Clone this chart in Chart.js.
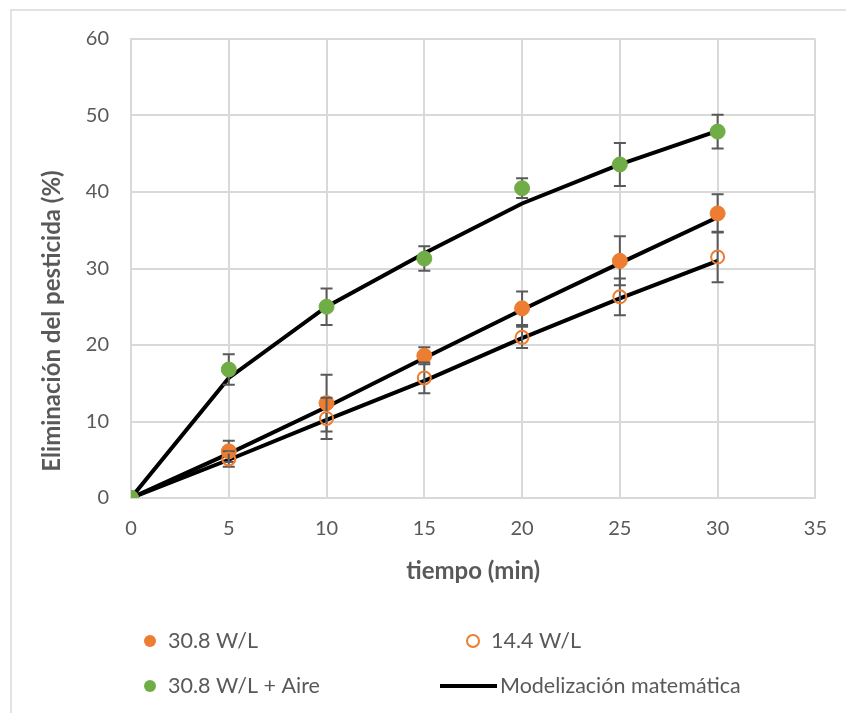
<!DOCTYPE html>
<html>
<head>
<meta charset="utf-8">
<script src="https://cdn.jsdelivr.net/npm/chart.js@4.4.0/dist/chart.umd.min.js"></script>
<style>
  html, body { margin: 0; padding: 0; background: #fff; }
  #wrap { width: 846px; height: 713px; }
</style>
</head>
<body>
<div id="wrap"><canvas id="chart" width="846" height="713"></canvas></div>
<script>
// tiempo (min)
const tiempo = [0, 5, 10, 15, 20, 25, 30];

// datos experimentales y desviaciones
const w308 = [0, 6.1, 12.4, 18.6, 24.8, 31.0, 37.2];
const w308Err = [0, 1.4, 3.7, 1.1, 2.2, 3.2, 2.5];
const w144 = [0, 5.1, 10.4, 15.7, 21.0, 26.3, 31.5];
const w144Err = [0, 1.0, 2.7, 2.0, 1.4, 2.4, 3.3];
const w308Aire = [0, 16.8, 25.0, 31.3, 40.5, 43.6, 47.9];
const w308AireErr = [0, 2.0, 2.4, 1.6, 1.3, 2.8, 2.2];

// modelización matemática
const modelo308 = [0, 5.8, 11.9, 18.3, 24.6, 30.7, 36.7];
const modelo144 = [0, 5.0, 10.2, 15.3, 20.9, 26.1, 31.0];
const modeloAire = [0, 15.7, 25.0, 32.0, 38.5, 43.6, 48.0];

const xTitle = 'tiempo (min)';
const yTitle = 'Eliminación del pesticida (%)';

const FONT = 'Lato, "Open Sans", sans-serif';
const NARANJA = '#ED7D31';
const VERDE = '#70AD47';

function pares(valores) {
    return tiempo.map((t, i) => ({ x: t, y: valores[i] }));
}

function puntos(label, valores, errores, fill, border, order) {
    return {
        label: label,
        data: pares(valores),
        errores: errores,
        showLine: false,
        backgroundColor: fill,
        borderColor: border,
        pointBackgroundColor: fill,
        pointBorderColor: border,
        pointBorderWidth: fill === 'transparent' ? 2 : 1,
        pointRadius: fill === 'transparent' ? 6.5 : 7.5,
        order: order
    };
}

function modelo(label, valores) {
    return {
        label: label,
        data: pares(valores),
        showLine: true,
        borderColor: '#000',
        borderWidth: 4,
        pointRadius: 0,
        tension: 0,
        order: 10
    };
}

var data = {
    datasets: [
        puntos('30.8 W/L', w308, w308Err, NARANJA, NARANJA, 3),
        puntos('14.4 W/L', w144, w144Err, 'transparent', NARANJA, 2),
        puntos('30.8 W/L + Aire', w308Aire, w308AireErr, VERDE, VERDE, 1),
        modelo('Modelización matemática', modeloAire),
        modelo('', modelo308),
        modelo('', modelo144)
    ]
};

// barras de error, dibujadas justo antes de cada serie de puntos
const errorBars = {
    id: 'errorBars',
    beforeDatasetDraw(chart, args) {
        const ds = chart.data.datasets[args.index];
        if (!ds.errores) return;
        const ctx = chart.ctx;
        const xs = chart.scales.x, ys = chart.scales.y;
        ctx.save();
        ctx.strokeStyle = '#595959';
        ctx.lineWidth = 2;
        ds.data.forEach((p, i) => {
            const e = ds.errores[i];
            if (!e) return;
            const px = xs.getPixelForValue(p.x);
            const top = ys.getPixelForValue(p.y + e);
            const bot = ys.getPixelForValue(p.y - e);
            ctx.beginPath();
            ctx.moveTo(px, top); ctx.lineTo(px, bot);
            ctx.moveTo(px - 6, top); ctx.lineTo(px + 6, top);
            ctx.moveTo(px - 6, bot); ctx.lineTo(px + 6, bot);
            ctx.stroke();
        });
        ctx.restore();
    }
};

// marco, título vertical y leyenda en dos columnas
const extras = {
    id: 'extras',
    beforeDraw(chart) {
        const ctx = chart.ctx;
        ctx.save();
        ctx.strokeStyle = '#d9d9d9';
        ctx.lineWidth = 1.5;
        ctx.strokeRect(11, 10, 900, 800);
        ctx.restore();
    },
    afterDraw(chart) {
        const ctx = chart.ctx;
        ctx.save();
        ctx.fillStyle = '#595959';
        ctx.font = 'bold 24px ' + FONT;
        ctx.textAlign = 'center';
        ctx.textBaseline = 'middle';
        ctx.translate(52, 321);
        ctx.rotate(-Math.PI / 2);
        ctx.fillText(yTitle, 0, 0);
        ctx.restore();

        const items = [
            { ds: chart.data.datasets[0], x: 150, y: 641 },
            { ds: chart.data.datasets[1], x: 473, y: 641 },
            { ds: chart.data.datasets[2], x: 150, y: 686 },
            { ds: chart.data.datasets[3], x: 473, y: 686, linea: true }
        ];
        ctx.save();
        ctx.font = '21.5px ' + FONT;
        ctx.textBaseline = 'middle';
        ctx.textAlign = 'left';
        items.forEach(it => {
            if (it.linea) {
                ctx.strokeStyle = it.ds.borderColor;
                ctx.lineWidth = 4;
                ctx.beginPath();
                ctx.moveTo(it.x - 33, it.y);
                ctx.lineTo(it.x + 24, it.y);
                ctx.stroke();
            } else {
                ctx.beginPath();
                ctx.arc(it.x, it.y, 6, 0, Math.PI * 2);
                if (it.ds.backgroundColor !== 'transparent') {
                    ctx.fillStyle = it.ds.backgroundColor;
                    ctx.fill();
                } else {
                    ctx.strokeStyle = it.ds.borderColor;
                    ctx.lineWidth = 2;
                    ctx.stroke();
                }
            }
            ctx.fillStyle = '#595959';
            ctx.fillText(it.ds.label, it.x + (it.linea ? 27 : 18), it.y);
        });
        ctx.restore();
    }
};

var options = {
    responsive: false,
    animation: false,
    layout: {
        padding: { top: 39, right: 30, bottom: 127, left: 0 }
    },
    scales: {
        x: {
            type: 'linear',
            min: 0,
            max: 35,
            afterFit: (s) => { s.height = 88; },
            ticks: { stepSize: 5, padding: 19, color: '#595959', font: { family: FONT, size: 20 } },
            grid: { color: '#d9d9d9', lineWidth: 2, drawTicks: false },
            border: { color: '#d9d9d9', width: 2 },
            title: {
                display: true,
                text: xTitle,
                color: '#595959',
                padding: { top: 0, bottom: 0 },
                font: { family: FONT, size: 24, weight: 'bold' }
            }
        },
        y: {
            min: 0,
            max: 60,
            afterFit: (s) => { s.width = 131; },
            ticks: { stepSize: 10, padding: 22, color: '#595959', font: { family: FONT, size: 20 } },
            grid: { color: '#d9d9d9', lineWidth: 2, drawTicks: false },
            border: { color: '#d9d9d9', width: 2 }
        }
    },
    plugins: {
        legend: { display: false },
        tooltip: { enabled: false }
    }
};

let chart = new Chart(document.getElementById('chart').getContext('2d'), {
    type: 'scatter',
    data: data,
    options: options,
    plugins: [errorBars, extras]
});
</script>
</body>
</html>
